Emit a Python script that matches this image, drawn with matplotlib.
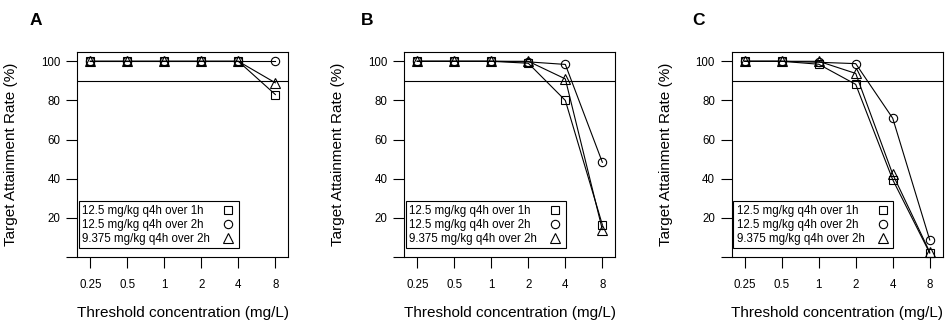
import matplotlib
matplotlib.use("Agg")
import matplotlib.pyplot as plt
from matplotlib.lines import Line2D

plt.rcParams['font.family'] = ['Liberation Sans', 'DejaVu Sans']

# threshold concentrations (mg/L), plotted at equal spacing
thresholds = ["0.25", "0.5", "1", "2", "4", "8"]
regimens = ["12.5 mg/kg q4h over 1h", "12.5 mg/kg q4h over 2h", "9.375 mg/kg q4h over 2h"]
panel_names = ["A", "B", "C"]

# target attainment rate (%) per panel, one list per regimen
a_1h = [100, 100, 100, 100, 100, 83]
a_2h = [100, 100, 100, 100, 100, 100]
a_9375 = [100, 100, 100, 100, 100, 89]

b_1h = [100, 100, 100, 99, 80, 16.5]
b_2h = [100, 100, 100, 99.7, 98.4, 48.4]
b_9375 = [100, 100, 100, 100, 91, 14]

c_1h = [100, 100, 98.5, 88.2, 39.5, 2]
c_2h = [100, 100, 99.5, 98.8, 70.9, 8.7]
c_9375 = [100, 100, 100, 93.8, 42.3, 2.5]

panels = [(a_1h, a_2h, a_9375), (b_1h, b_2h, b_9375), (c_1h, c_2h, c_9375)]
markers = ["s", "o", "^"]
msizes = [6, 6, 7.2]

W, H = 950, 324
fig = plt.figure(figsize=(W / 100, H / 100), dpi=100)

ax_left = [77.3, 404.3, 731.7]
letter_x = [30, 360.7, 692.3]
ax_w, ax_top, ax_bot = 211, 51.7, 257

x = list(range(len(thresholds)))
legends = []

for k, series in enumerate(panels):
    ax = fig.add_axes([ax_left[k] / W, (H - ax_bot) / H, ax_w / W, (ax_bot - ax_top) / H])
    for vals, m, ms in zip(series, markers, msizes):
        ax.plot(x, vals, color="black", lw=0.8, marker=m, ms=ms,
                fillstyle="none", mew=0.8, clip_on=False, zorder=3)
    ax.axhline(90, color="black", lw=0.8)

    ax.set_xlim(-0.35, 5.35)
    ax.set_ylim(0, 104.9)
    ax.set_xticks(x)
    ax.set_xticklabels(thresholds)
    ax.set_yticks([0, 20, 40, 60, 80, 100])
    ax.set_yticklabels(["", "20", "40", "60", "80", "100"])
    ax.tick_params(axis="both", direction="out", length=7.6, width=0.8,
                   labelsize=8.3, colors="black")
    ax.tick_params(axis="x", pad=8.3)
    ax.tick_params(axis="y", pad=4.5)
    for sp in ax.spines.values():
        sp.set_linewidth(0.8)

    ax.text(-0.312, 0.5, "Target Attainment Rate (%)", transform=ax.transAxes,
            rotation=90, ha="center", va="center", fontsize=11)
    ax.text(0.5, -0.273, "Threshold concentration (mg/L)", transform=ax.transAxes,
            ha="center", va="center", fontsize=11)

    fig.text(letter_x[k] / W, 1 - 25 / H, panel_names[k], fontsize=12.5,
             fontweight="bold", ha="left", va="baseline")

    handles = [Line2D([], [], color="black", ls="none", marker=m, ms=ms,
                      fillstyle="none", mew=0.8) for m, ms in zip(markers, msizes)]
    leg = ax.legend(handles, regimens, loc="lower left",
                    bbox_to_anchor=(1.7 / ax_w, 8.7 / (ax_bot - ax_top)),
                    borderaxespad=0, markerfirst=False, fontsize=8.3,
                    frameon=True, fancybox=False, edgecolor="black",
                    framealpha=1, borderpad=0.3, labelspacing=0.18,
                    handlelength=1.2, handletextpad=0.95)
    leg.get_frame().set_linewidth(0.8)
    legends.append(leg)

# left-align legend text but keep the markers in one column on the right
fig.canvas.draw()
renderer = fig.canvas.get_renderer()
for leg in legends:
    for col in leg._legend_handle_box.get_children():
        col.align = "left"
        items = col.get_children()
        wmax = max(it.get_bbox(renderer).width for it in items)
        for it in items:
            it.width = wmax
            it.mode = "expand"

fig.savefig("out.png", dpi=100)
